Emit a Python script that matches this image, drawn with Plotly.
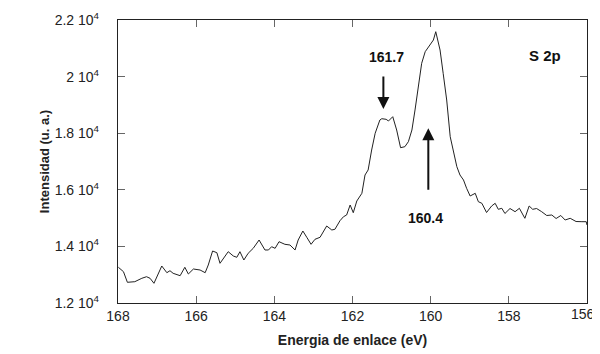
import plotly.graph_objects as go

energy = [167.99, 167.86, 167.76, 167.57, 167.39, 167.27, 167.18, 167.08, 166.88, 166.75,
          166.67, 166.59, 166.41, 166.29, 166.20, 166.07, 165.90, 165.77, 165.69, 165.58,
          165.47, 165.39, 165.18, 165.05, 164.96, 164.88, 164.78, 164.67, 164.54, 164.39,
          164.24, 164.15, 164.07, 163.98, 163.88, 163.73, 163.60, 163.47, 163.39, 163.27,
          163.17, 163.06, 162.96, 162.83, 162.66, 162.53, 162.45, 162.32, 162.23, 162.15,
          162.06, 161.98, 161.89, 161.76, 161.68, 161.60, 161.51, 161.42, 161.30, 161.25,
          161.14, 161.08, 160.97, 160.87, 160.77, 160.66, 160.57, 160.48, 160.40, 160.32,
          160.23, 160.14, 160.02, 159.93, 159.87, 159.76, 159.68, 159.59, 159.50, 159.42,
          159.33, 159.25, 159.16, 159.08, 158.99, 158.86, 158.78, 158.69, 158.57, 158.44,
          158.35, 158.27, 158.18, 158.10, 157.97, 157.84, 157.73, 157.59, 157.48, 157.39,
          157.29, 157.16, 157.03, 156.90, 156.79, 156.67, 156.56, 156.43, 156.28, 156.13,
          156.02, 156.00]
intensity = [13262, 13106, 12731, 12753, 12873, 12929, 12873, 12696, 13307, 13071,
             13141, 13049, 12965, 13262, 13025, 13201, 13166, 13071, 13343, 13837,
             13777, 13403, 13813, 13661, 13615, 13813, 13519, 13756, 13933, 14226,
             13873, 13873, 13989, 13933, 14166, 14074, 14049, 13873, 14226, 14544,
             14322, 14074, 14251, 14322, 14721, 14580, 14604, 14908, 15050, 15110,
             15463, 15191, 15604, 15876, 16523, 16700, 17406, 17997, 18466, 18512,
             18491, 18431, 18583, 18113, 17488, 17523, 17700, 18113, 18820, 19643,
             20470, 20880, 21117, 21293, 21587, 20940, 20117, 19173, 17876, 17346,
             16816, 16523, 16346, 16053, 15781, 15876, 15580, 15523, 15198, 15428,
             15523, 15311, 15346, 15163, 15339, 15226, 15346, 14993, 15428, 15311,
             15339, 15226, 15092, 15110, 14986, 15092, 14933, 14993, 14880, 14873,
             14873, 14756]

x_ticks = [168, 166, 164, 162, 160, 158, 156]
x_ticktext = ["168", "166", "164", "162", "160", "158", ""]   # last label drawn below so it fits
y_ticks = [12000, 14000, 16000, 18000, 20000, 22000]
y_ticktext = ["1.2 10<sup>4</sup>", "1.4 10<sup>4</sup>", "1.6 10<sup>4</sup>",
              "1.8 10<sup>4</sup>", "2 10<sup>4</sup>", "2.2 10<sup>4</sup>"]

FONT = "Liberation Sans, Arial, sans-serif"

fig = go.Figure()
fig.add_trace(go.Scatter(x=energy, y=intensity, mode="lines",
                         line=dict(color="#222222", width=1), hoverinfo="skip",
                         showlegend=False))

axis_common = dict(showline=True, linecolor="#222222", linewidth=1.3, mirror="ticks",
                   ticks="inside", ticklen=7, tickcolor="#666666", tickwidth=1.2,
                   showgrid=False, zeroline=False, automargin=False,
                   tickfont=dict(family=FONT, size=14, color="#222222"))

# page body has an 8px default margin, so the figure is sized to compensate
fig.update_layout(
    width=592, height=346,
    margin=dict(l=110, r=13, t=12, b=51),
    paper_bgcolor="white", plot_bgcolor="white",
    xaxis=dict(range=[168, 156], tickvals=x_ticks, ticktext=x_ticktext,
               title=dict(text="<b>Energia de enlace (eV)</b>", standoff=12,
                          font=dict(family=FONT, size=14, color="#222222")),
               **axis_common),
    yaxis=dict(range=[12000, 22000], tickvals=y_ticks, ticktext=y_ticktext,
               title=dict(text="<b>Intensidad (u. a.)</b>", standoff=2,
                          font=dict(family=FONT, size=13, color="#222222")),
               **axis_common),
)
fig.update_yaxes(ticklabelstandoff=15)

fig.add_annotation(x=1, xref="paper", y=0, yref="paper", text="156", showarrow=False,
                   xanchor="right", yanchor="middle", xshift=10, yshift=-11,
                   font=dict(family=FONT, size=14, color="#222222"))

ann_font = dict(family=FONT, size=14, color="#111111")
fig.add_annotation(x=161.12, y=20693, text="<b>161.7</b>", showarrow=False, font=ann_font)
fig.add_annotation(x=161.21, y=18855, ax=0, ay=-34, text="", showarrow=True,
                   arrowhead=2, arrowsize=1.2, arrowwidth=2, arrowcolor="#111111")
fig.add_annotation(x=160.14, y=15004, text="<b>160.4</b>", showarrow=False, font=ann_font)
fig.add_annotation(x=160.06, y=18173, ax=0, ay=63, text="", showarrow=True,
                   arrowhead=2, arrowsize=1.2, arrowwidth=2, arrowcolor="#111111")
fig.add_annotation(x=157.07, y=20763, text="<b>S 2p</b>", showarrow=False,
                   font=dict(family=FONT, size=15, color="#111111"))

fig.write_html("out.html")
